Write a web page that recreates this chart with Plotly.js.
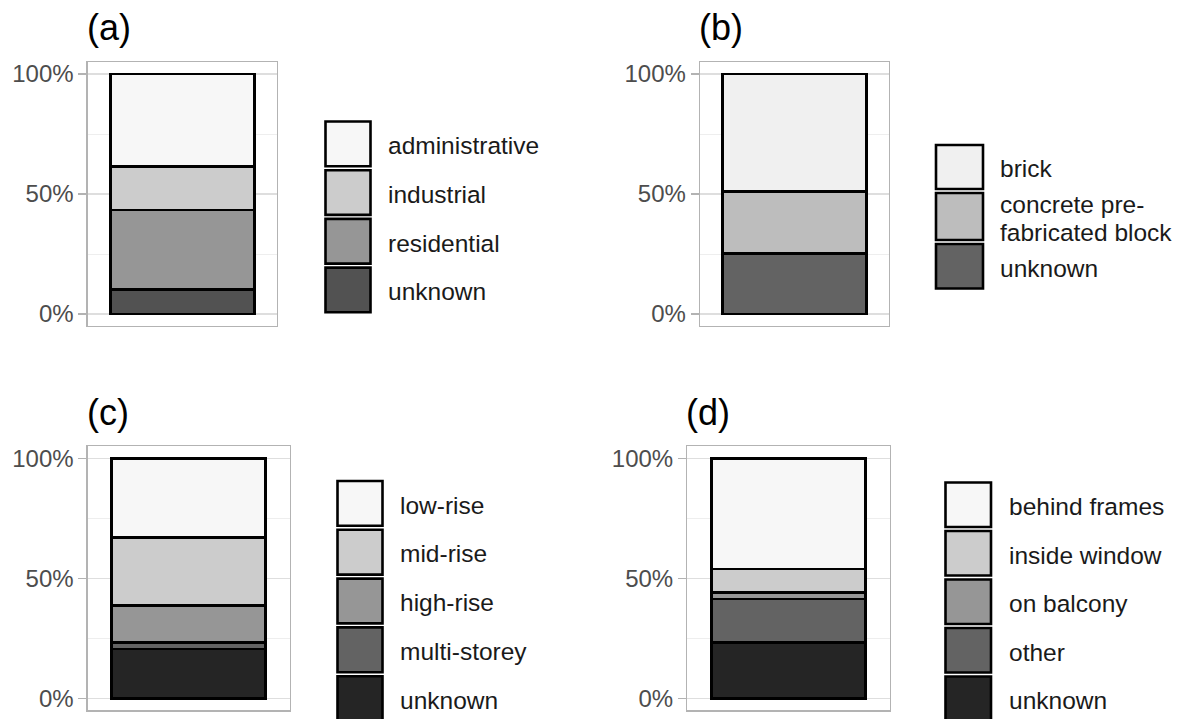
<!DOCTYPE html>
<html>
<head>
<meta charset="utf-8">
<script src="https://cdn.plot.ly/plotly-3.0.1.min.js"></script>
<style>html,body{margin:0;padding:0;background:#fff;}#chart{width:1179px;height:719px;}</style>
</head>
<body>
<div id="chart"></div>
<script>
// ---- data (legend order, top to bottom) ----
const panelTitles = ['(a)', '(b)', '(c)', '(d)'];

const catsA = ['administrative', 'industrial', 'residential', 'unknown'];
const valsA = [0.387, 0.180, 0.330, 0.103];

const catsB = ['brick', 'concrete pre-\nfabricated block', 'unknown'];
const valsB = [0.490, 0.257, 0.253];

const catsC = ['low-rise', 'mid-rise', 'high-rise', 'multi-storey', 'unknown'];
const valsC = [0.331, 0.283, 0.153, 0.028, 0.205];

const catsD = ['behind frames', 'inside window', 'on balcony', 'other', 'unknown'];
const valsD = [0.461, 0.099, 0.026, 0.182, 0.232];

const yTickVals = [0, 0.5, 1];
const yTickText = ['0%', '50%', '100%'];
const yMinorVals = [0.25, 0.75];

// ---- styles ----
const greys3 = ['#f0f0f0', '#bdbdbd', '#636363'];
const greys4 = ['#f7f7f7', '#cccccc', '#969696', '#525252'];
const greys5 = ['#f7f7f7', '#cccccc', '#969696', '#636363', '#252525'];

const W = 1179, H = 719;
const px = x => x / W;
const py = y => 1 - y / H;
const FONT = 'Liberation Sans, Arial, Helvetica, sans-serif';

const panels = [
  {cats: catsA, vals: valsA, cols: greys4, title: panelTitles[0],
   plot: {x0: 87.7, x1: 276.7, y0: 62, y1: 326},
   leg: {x0: 325.5, x1: 370.5, top: 119.5, rowH: [48.7, 48.7, 48.7, 48.7], labelX: 386}},
  {cats: catsB, vals: valsB, cols: greys3, title: panelTitles[1],
   plot: {x0: 700, x1: 889, y0: 62, y1: 326},
   leg: {x0: 936, x1: 983, top: 143, rowH: [48, 51, 48.5], labelX: 998}},
  {cats: catsC, vals: valsC, cols: greys5, title: panelTitles[2],
   plot: {x0: 87.7, x1: 289.7, y0: 446.3, y1: 710.3},
   leg: {x0: 337.5, x1: 382.5, top: 479, rowH: [48.8, 48.8, 48.8, 48.8, 48.8], labelX: 398}},
  {cats: catsD, vals: valsD, cols: greys5, title: panelTitles[3],
   plot: {x0: 687.3, x1: 889.7, y0: 446.3, y1: 710.3},
   leg: {x0: 945.5, x1: 991, top: 480.5, rowH: [48.5, 48.5, 48.5, 48.5, 48.5], labelX: 1007}}
];

const traces = [];
const layout = {
  width: W, height: H,
  margin: {l: 0, r: 0, t: 0, b: 0},
  paper_bgcolor: '#ffffff', plot_bgcolor: '#ffffff',
  barmode: 'stack', showlegend: false,
  font: {family: FONT, color: '#1a1a1a'},
  shapes: [], annotations: []
};

panels.forEach((p, k) => {
  const sfx = k === 0 ? '' : String(k + 1);
  const xa = 'x' + sfx, ya = 'y' + sfx;
  // stack bottom-up: last legend entry at bottom
  for (let i = p.cats.length - 1; i >= 0; i--) {
    traces.push({
      type: 'bar', x: [0], y: [p.vals[i]], width: [0.9],
      xaxis: xa, yaxis: ya, name: p.cats[i].replace('\n', ' '),
      marker: {color: p.cols[i], line: {color: '#000000', width: 2.8}},
      hoverinfo: 'name+y'
    });
  }
  layout['xaxis' + sfx] = {
    domain: [px(p.plot.x0), px(p.plot.x1)], anchor: ya,
    range: [-0.59, 0.59], showticklabels: false, showgrid: false, zeroline: false,
    showline: true, mirror: true, linecolor: '#b3b3b3', linewidth: 1.3, ticks: '', fixedrange: true
  };
  layout['yaxis' + sfx] = {
    domain: [py(p.plot.y1), py(p.plot.y0)], anchor: xa,
    range: [-0.05, 1.05], tickmode: 'array', tickvals: yTickVals, ticktext: yTickText,
    ticks: 'outside', ticklen: 8, tickwidth: 1.3, tickcolor: '#b3b3b3',
    tickfont: {family: FONT, size: 24, color: '#4d4d4d'},
    showgrid: true, gridcolor: '#dedede', gridwidth: 1.3,
    minor: {tickvals: yMinorVals, showgrid: true, gridcolor: '#ececec', gridwidth: 0.9, ticks: ''},
    zeroline: false, showline: true, mirror: true, linecolor: '#b3b3b3', linewidth: 1.3, fixedrange: true
  };
  // panel title
  layout.annotations.push({
    xref: 'paper', yref: 'paper', x: px(p.plot.x0 - 3), y: py(p.plot.y0 - 34),
    xanchor: 'left', yanchor: 'middle', showarrow: false,
    text: p.title, font: {family: FONT, size: 36, color: '#000000'}
  });
  // legend keys + labels
  let top = p.leg.top;
  p.cats.forEach((c, i) => {
    const h = p.leg.rowH[i];
    layout.shapes.push({
      type: 'rect', xref: 'paper', yref: 'paper',
      x0: px(p.leg.x0), x1: px(p.leg.x1), y0: py(top + h - 2), y1: py(top + 2),
      fillcolor: p.cols[i], line: {color: '#000000', width: 2.6}, layer: 'above'
    });
    const lines = c.split('\n');
    const cy = top + h / 2 + 1.8;
    const lh = 27.5;
    lines.forEach((ln, j) => {
      const yy = cy + (j - (lines.length - 1) / 2) * lh;
      layout.annotations.push({
        xref: 'paper', yref: 'paper', x: px(p.leg.labelX), y: py(yy),
        xanchor: 'left', yanchor: 'middle', showarrow: false,
        text: ln, font: {family: FONT, size: 24.5, color: '#1a1a1a'}
      });
    });
    top += h;
  });
});

Plotly.newPlot('chart', traces, layout, {displayModeBar: false, staticPlot: true});
</script>
</body>
</html>
